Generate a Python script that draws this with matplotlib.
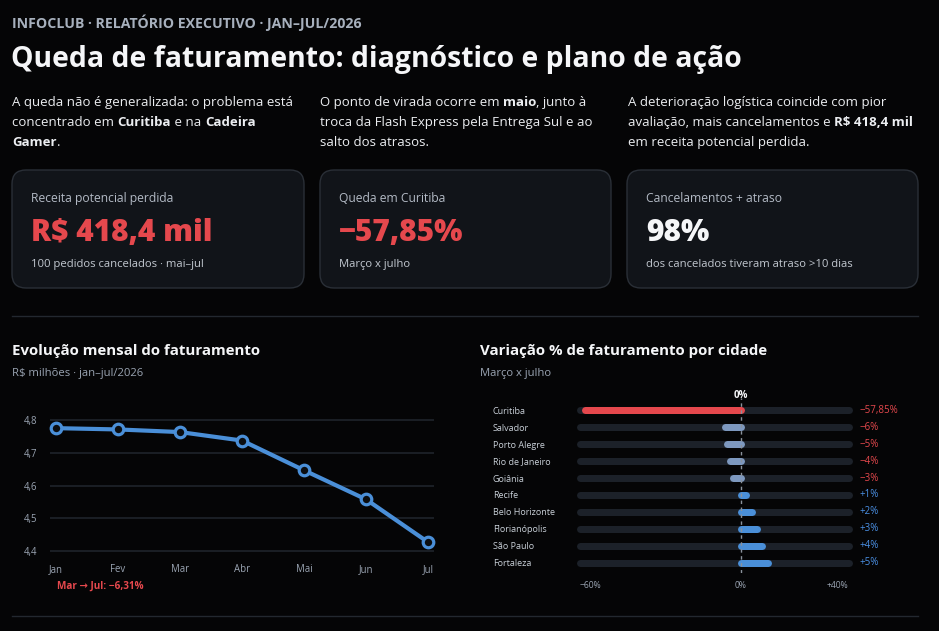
import matplotlib
matplotlib.use('Agg')
import matplotlib.pyplot as plt
import numpy as np
from matplotlib.patches import FancyBboxPatch
from matplotlib import transforms

# ---------------- data ----------------
months = ['Jan', 'Fev', 'Mar', 'Abr', 'Mai', 'Jun', 'Jul']
revenue = [4.776, 4.772, 4.764, 4.738, 4.647, 4.558, 4.427]
rev_yticks = [4.4, 4.5, 4.6, 4.7, 4.8]
rev_ytick_labels = ['4,4', '4,5', '4,6', '4,7', '4,8']

cities = ['Curitiba', 'Salvador', 'Porto Alegre', 'Rio de Janeiro', 'Goiânia',
          'Recife', 'Belo Horizonte', 'Florianópolis', 'São Paulo', 'Fortaleza']
city_change = [-57.85, -6, -5, -4, -3, 1, 2, 3, 4, 5]
city_change_labels = ['−57,85%', '−6%', '−5%', '−4%', '−3%', '+1%', '+2%', '+3%', '+4%', '+5%']
bar_ticks = [-60, 0, 20]
bar_tick_labels = ['−60%', '0%', '+40%']

kpi_labels = ['Receita potencial perdida', 'Queda em Curitiba', 'Cancelamentos + atraso']
kpi_values = ['R$ 418,4 mil', '−57,85%', '98%']
kpi_subs = ['100 pedidos cancelados · mai–jul', 'Março x julho', 'dos cancelados tiveram atraso >10 dias']

# ---------------- style ----------------
FONT = ['Open Sans', 'DejaVu Sans']
plt.rcParams['font.family'] = FONT
BG = '#050506'
CARD = '#111419'
CARD_EDGE = '#2a2f37'
RED = '#e5484d'
BLUE = '#4a8fd8'
BLUE_TXT = '#4b91e6'
MUTED = '#7d98bf'
TRACK = '#1c2129'
GRID = '#1f242b'
GRAYTXT = '#9aa4b2'
WHITE = '#f5f6f8'

W, H = 939, 631
fig = plt.figure(figsize=(W / 100, H / 100), dpi=100, facecolor=BG)
bg = fig.add_axes([0, 0, 1, 1], zorder=0)
bg.set_xlim(0, W)
bg.set_ylim(H, 0)
bg.axis('off')
bg.set_facecolor(BG)

renderer = fig.canvas.get_renderer()


def text_width(s, size, weight):
    t1 = bg.text(0, 0, s + '|', fontsize=size, fontweight=weight)
    t2 = bg.text(0, 0, '|', fontsize=size, fontweight=weight)
    w = t1.get_window_extent(renderer=renderer).width - t2.get_window_extent(renderer=renderer).width
    t1.remove()
    t2.remove()
    return w


def rich(x, y, parts, size, color):
    cx = x
    for txt, bold in parts:
        wt = 'bold' if bold else 'normal'
        bg.text(cx, y, txt, fontsize=size, fontweight=wt, color=color, va='baseline', ha='left')
        cx += text_width(txt, size, wt)


def ax_px(l, t, r, b, **kw):
    return fig.add_axes([l / W, 1 - b / H, (r - l) / W, (b - t) / H], **kw)


# ---------------- header ----------------
bg.text(12, 28, 'INFOCLUB · RELATÓRIO EXECUTIVO · JAN–JUL/2026', fontsize=10.2,
        fontweight='bold', color='#a7b0bd', va='baseline')
bg.text(11, 67, 'Queda de faturamento: diagnóstico e plano de ação', fontsize=20.4,
        fontweight='bold', color=WHITE, va='baseline')

PS = 9.55
PC = '#eceef1'
col1 = [[('A queda não é generalizada: o problema está', False)],
        [('concentrado em ', False), ('Curitiba', True), (' e na ', False), ('Cadeira', True)],
        [('Gamer', True), ('.', False)]]
col2 = [[('O ponto de virada ocorre em ', False), ('maio', True), (', junto à', False)],
        [('troca da Flash Express pela Entrega Sul e ao', False)],
        [('salto dos atrasos.', False)]]
col3 = [[('A deterioração logística coincide com pior', False)],
        [('avaliação, mais cancelamentos e ', False), ('R$ 418,4 mil', True)],
        [('em receita potencial perdida.', False)]]
for x0, col in zip([12, 320, 628], [col1, col2, col3]):
    for i, line in enumerate(col):
        rich(x0, 106 + 20 * i, line, PS, PC)

# ---------------- KPI cards ----------------
card_x = [12, 320, 627]
card_w = [292, 291, 291]
value_colors = [RED, RED, WHITE]
for i in range(3):
    x0 = card_x[i]
    p = FancyBboxPatch((x0, 170), card_w[i], 118, boxstyle='round,pad=0,rounding_size=14',
                       fc=CARD, ec=CARD_EDGE, lw=1.0)
    bg.add_patch(p)
    bg.text(x0 + 19, 202, kpi_labels[i], fontsize=8.7, color='#b3bac5', va='baseline')
    bg.text(x0 + 19, 241, kpi_values[i], fontsize=21.5, fontweight=800,
            color=value_colors[i], va='baseline')
    bg.text(x0 + 19, 267, kpi_subs[i], fontsize=8.1, color='#c2c8d0', va='baseline')

# separators
bg.plot([12, 918], [316, 316], color='#23282f', lw=1)
bg.plot([12, 918], [616, 616], color='#23282f', lw=1)

# ---------------- line chart ----------------
bg.text(12, 355, 'Evolução mensal do faturamento', fontsize=10.8, fontweight='bold',
        color=WHITE, va='baseline')
bg.text(12, 376, 'R$ milhões · jan–jul/2026', fontsize=8.1, color=GRAYTXT, va='baseline')

ax1 = ax_px(50, 412, 434, 556)
ax1.set_facecolor('none')
xs = np.arange(len(months))
ax1.plot(xs, revenue, color=BLUE, lw=3.0, marker='o', ms=7.6, mfc='#0b0d10',
         mec=BLUE, mew=2.3, solid_joinstyle='round', zorder=3, clip_on=False)
ax1.set_xlim(-0.096, 6.096)
ax1.set_ylim(4.3847, 4.8254)
ax1.set_yticks(rev_yticks, rev_ytick_labels)
ax1.set_xticks(xs, months)
ax1.grid(axis='y', color=GRID, lw=1.2)
ax1.set_axisbelow(True)
for s in ax1.spines.values():
    s.set_visible(False)
ax1.tick_params(length=0, colors=GRAYTXT, labelsize=6.9)
ax1.tick_params(axis='y', pad=9.4)
ax1.tick_params(axis='x', pad=5.6)

bg.text(57, 589, 'Mar → Jul: −6,31%', fontsize=7.2, fontweight='bold', color=RED,
        va='baseline', family=FONT)

# ---------------- city bar chart ----------------
bg.text(480, 355, 'Variação % de faturamento por cidade', fontsize=10.8, fontweight='bold',
        color=WHITE, va='baseline')
bg.text(480, 376, 'Março x julho', fontsize=8.1, color=GRAYTXT, va='baseline')


def fwd(x):
    x = np.asarray(x, dtype=float)
    return np.where(x < 0, x, 2 * x)


def inv(y):
    y = np.asarray(y, dtype=float)
    return np.where(y < 0, y, y / 2)


ax2 = ax_px(579.5, 398, 848.5, 573)
ax2.set_facecolor('none')
ax2.set_xscale('function', functions=(fwd, inv))
ax2.set_xlim(-60, 20)
ax2.set_ylim(len(cities) - 1 + 0.61, -0.727)
rows = np.arange(len(cities))
LW = 7 * 72 / 100
for r, v in zip(rows, city_change):
    ax2.plot([-60, 20], [r, r], color=TRACK, lw=LW, solid_capstyle='round',
             clip_on=False, zorder=1)
    if r == 0:
        c = RED
    elif v < 0:
        c = MUTED
    else:
        c = BLUE
    ax2.plot([0, v], [r, r], color=c, lw=LW, solid_capstyle='round',
             clip_on=False, zorder=2)
ax2.axvline(0, color='#8a929c', lw=1.0, ls=(0, (2.5, 2.5)), zorder=3)
ax2.text(0, -0.9, '0%', transform=ax2.transData, ha='center', va='center',
         fontsize=7, fontweight='bold', color=WHITE, clip_on=False)

ax2.set_yticks(rows, cities)
for lab in ax2.get_yticklabels():
    lab.set_horizontalalignment('left')
ax2.tick_params(axis='y', length=0, pad=62.3, colors='#c9d0d8', labelsize=6.5)
ax2.set_xticks(bar_ticks, bar_tick_labels)
ax2.xaxis.set_minor_locator(matplotlib.ticker.NullLocator())
ax2.tick_params(axis='x', length=0, pad=6, colors=GRAYTXT, labelsize=6.2)
xl = ax2.get_xticklabels()
xl[0].set_horizontalalignment('left')
xl[-1].set_horizontalalignment('right')
for s in ax2.spines.values():
    s.set_visible(False)

tr = transforms.blended_transform_factory(ax2.transAxes, ax2.transData)
for r, v, lab in zip(rows, city_change, city_change_labels):
    ax2.text(1 + 11 / 269, r, lab, transform=tr, ha='left', va='center', fontsize=7.0,
             color=RED if v < 0 else BLUE_TXT, clip_on=False)

fig.savefig('out.png', dpi=100, facecolor=BG)
